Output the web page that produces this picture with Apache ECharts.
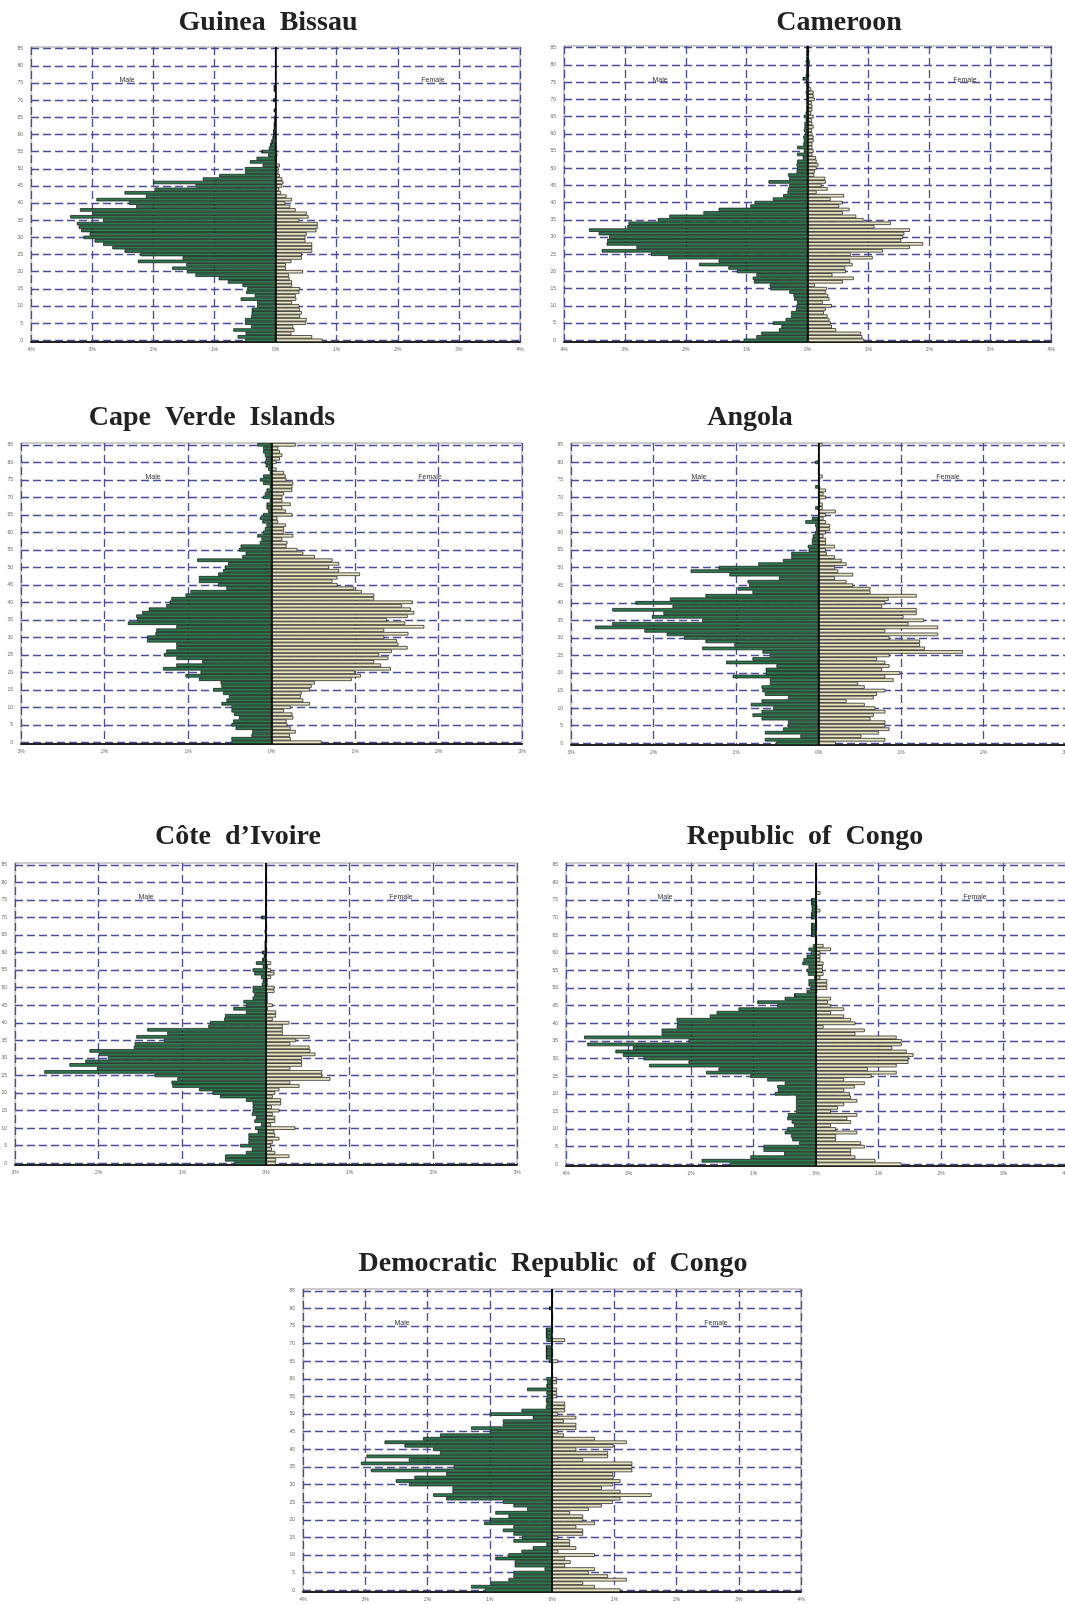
<!DOCTYPE html>
<html>
<head>
<meta charset="utf-8">
<script src="https://cdn.jsdelivr.net/npm/echarts@6/dist/echarts.min.js"></script>
<style>
  html, body { margin: 0; padding: 0; background: #fff; }
  #main { width: 1065px; height: 1604px; }
</style>
</head>
<body>
<div id="main"></div>
<script>
// single-year age groups 0..85
const ages = [];
for (let a = 0; a <= 85; a++) ages.push(String(a));

const countries = ['Guinea  Bissau', 'Cameroon', 'Cape  Verde  Islands', 'Angola',
  'Côte  d\u2019Ivoire', 'Republic  of  Congo', 'Democratic  Republic  of  Congo'];
const xLimits = [4, 4, 3, 3, 3, 4, 4]; // % either side

// share of population, %, per age (0..85)
const gbMale = [0.5,0.62,0.49,0.69,0.4,0.5,0.5,0.4,0.39,0.39, 0.3,0.3,0.57,0.34,0.48,0.46,0.54,0.78,0.93,1.31,
  1.45,1.69,1.46,2.25,1.52,2.21,2.47,2.67,2.82,2.96, 3.14,3.04,3.18,3.22,3.25,2.82,3.36,3.0,3.2,2.28,
  2.4,2.93,2.12,2.47,1.98,1.31,2.0,1.19,0.92,0.5, 0.5,0.21,0.42,0.31,0.12,0.22,0.11,0.08,0.06,0.04,
  0.03,0.03,0.02,0.02,0.01,0.01,0,0.02,0,0, 0.03,0,0,0.02,0.02,0,0,0,0,0, 0,0,0,0,0,0];
const gbFemale = [0.77,0.6,0.26,0.31,0.29,0.5,0.51,0.4,0.43,0.4, 0.39,0.27,0.34,0.33,0.39,0.4,0.27,0.27,0.23,0.22,
  0.45,0.17,0.17,0.26,0.43,0.43,0.6,0.6,0.6,0.49, 0.49,0.51,0.67,0.69,0.69,0.39,0.54,0.51,0.33,0.24,
  0.16,0.27,0.18,0.09,0.06,0.11,0.13,0.11,0.07,0.05, 0.05,0.07,0.02,0.02,0.03,0,0.01,0,0,0,
  0,0,0,0,0,0,0,0,0,0, 0,0,0,0,0,0,0,0,0,0, 0,0,0,0,0,0];

const cmMale = [1.05,0.84,0.76,0.47,0.43,0.57,0.36,0.27,0.27,0.19, 0.18,0.17,0.22,0.23,0.3,0.61,0.62,0.88,0.9,0.84,
  1.16,1.3,1.78,1.46,2.29,2.57,3.38,2.81,3.3,3.29, 3.26,3.43,3.59,2.96,2.94,2.46,2.27,1.71,1.46,0.94,
  0.87,0.57,0.4,0.33,0.32,0.3,0.64,0.3,0.32,0.18, 0.17,0.18,0.17,0.08,0.17,0.06,0.17,0.07,0.06,0.07,
  0.04,0.06,0.05,0.05,0.03,0.06,0.03,0.02,0.02,0.02, 0.02,0.02,0.03,0.02,0.02,0.02,0.07,0.03,0.02,0.02,
  0.02,0.03,0.02,0.02,0.02,0.02];
const cmFemale = [0.93,0.9,0.88,0.47,0.4,0.38,0.36,0.33,0.27,0.3, 0.4,0.25,0.36,0.34,0.3,0.32,0.12,0.58,0.76,0.41,
  0.63,0.62,0.74,0.7,1.07,0.71,1.24,1.68,1.9,1.54, 1.57,1.59,1.68,1.1,1.37,0.92,0.8,0.58,0.69,0.52,
  0.58,0.38,0.6,0.15,0.33,0.23,0.3,0.29,0.11,0.12, 0.15,0.18,0.15,0.14,0.08,0.1,0.08,0.08,0.1,0.1,
  0.08,0.07,0.1,0.08,0.07,0.1,0.06,0.08,0.08,0.07, 0.12,0.1,0.1,0.06,0.03,0,0,0.03,0.02,0.02,
  0.04,0.04,0.02,0.02,0.03,0.02];

const cvMale = [0.48,0.48,0.24,0.23,0.43,0.48,0.46,0.39,0.45,0.48, 0.48,0.6,0.54,0.51,0.58,0.7,0.6,0.61,0.87,1.03,
  0.85,1.3,1.14,0.83,1.14,1.29,1.26,1.14,1.14,1.49, 1.49,1.39,1.38,1.14,1.72,1.61,1.62,1.55,1.47,1.26,
  1.22,1.2,1.03,0.97,0.54,0.64,0.87,0.87,0.64,0.58, 0.56,0.52,0.89,0.35,0.31,0.39,0.37,0.14,0.12,0.17,
  0.1,0.08,0.06,0.11,0.14,0.1,0.04,0.06,0.06,0.02, 0.1,0.08,0.06,0.02,0.1,0.14,0.1,0.02,0.04,0.07,
  0.08,0.07,0.08,0.1,0.1,0.17];
const cvFemale = [0.6,0.23,0.22,0.29,0.23,0.19,0.18,0.26,0.25,0.15, 0.23,0.46,0.38,0.35,0.36,0.46,0.48,0.52,0.96,1.07,
  1.0,1.43,1.31,1.23,1.4,1.29,1.44,1.63,1.52,1.5, 1.35,1.64,1.35,1.83,1.6,1.38,1.63,1.71,1.67,1.56,
  1.69,1.23,1.23,1.08,0.99,0.79,0.73,0.79,1.06,0.81, 0.69,0.81,0.73,0.52,0.38,0.31,0.18,0.19,0.13,0.26,
  0.15,0.15,0.17,0.08,0.07,0.25,0.17,0.13,0.23,0.13, 0.13,0.15,0.25,0.25,0.26,0.18,0.17,0.15,0.06,0.02,
  0.06,0.1,0.13,0.1,0.08,0.29];

const agMale = [0.51,0.65,0.22,0.65,0.43,0.37,0.37,0.69,0.8,0.69, 0.55,0.82,0.69,0.37,0.65,0.68,0.69,0.59,0.59,1.04,
  0.64,0.64,0.51,1.12,0.8,0.59,0.68,1.41,1.02,1.37, 1.63,1.84,2.11,2.71,2.5,1.41,2.02,1.88,2.5,1.77,
  2.22,1.8,1.37,0.8,0.98,0.84,0.86,0.48,1.08,1.55, 1.21,0.73,0.43,0.33,0.33,0.12,0.13,0.08,0.08,0.07,
  0.04,0.03,0.04,0.16,0.08,0,0,0.04,0,0, 0,0,0,0.04,0,0,0,0,0,0, 0.04,0,0,0,0,0];
const agFemale = [0.21,0.81,0.52,0.73,0.86,0.81,0.81,0.63,0.67,0.81, 0.69,0.56,0.34,0.67,0.71,0.81,0.56,0.48,0.91,0.81,
  0.99,0.77,0.86,0.81,0.71,0.86,1.75,1.29,1.23,1.23, 0.86,1.45,0.81,1.45,1.09,1.28,1.03,1.19,1.19,0.77,
  0.81,0.85,1.19,0.63,0.63,0.42,0.34,0.2,0.42,0.24, 0.2,0.34,0.28,0.2,0.1,0.09,0.2,0.09,0.09,0.06,
  0.09,0.14,0.14,0.09,0.06,0.09,0.21,0.05,0.05,0.02, 0.09,0.06,0.09,0.02,0,0.02,0.05,0.01,0.01,0.01,
  0.01,0.01,0.01,0.01,0.01,0.05];

const ciMale = [0.38,0.49,0.49,0.24,0.17,0.31,0.21,0.21,0.21,0.1, 0.13,0.06,0.14,0.12,0.17,0.16,0.16,0.16,0.24,0.55,
  0.64,0.8,1.12,1.13,1.06,1.33,2.65,2.02,2.35,2.16, 1.89,2.0,2.11,1.58,1.57,1.22,1.55,1.18,1.42,0.69,
  0.67,0.5,0.49,0.24,0.39,0.24,0.27,0.16,0.14,0.16, 0.16,0.05,0.04,0.06,0.14,0.16,0.04,0.12,0.04,0.02,
  0.04,0.01,0.01,0.01,0,0,0.01,0,0,0, 0.05,0,0,0,0,0,0,0,0,0, 0,0,0,0,0,0];
const ciFemale = [0.12,0.12,0.28,0.11,0.07,0.06,0.08,0.16,0.11,0.1, 0.35,0.06,0.11,0.11,0.08,0.16,0.07,0.18,0.18,0.08,
  0.11,0.16,0.4,0.29,0.77,0.67,0.67,0.29,0.43,0.43, 0.43,0.59,0.53,0.52,0.29,0.36,0.52,0.2,0.2,0.2,
  0.28,0.08,0.12,0.12,0.02,0.08,0.02,0.02,0.02,0.1, 0.1,0.02,0.02,0.06,0.1,0.06,0.02,0.06,0,0,
  0,0,0,0,0,0,0,0,0,0, 0,0,0,0,0,0,0,0,0,0, 0,0,0,0,0,0];

const rcMale = [1.38,1.83,1.05,0.51,0.84,0.84,0.27,0.38,0.4,0.5, 0.46,0.35,0.39,0.46,0.45,0.32,0.32,0.32,0.32,0.32,
  0.66,0.61,0.62,0.5,0.78,1.05,1.76,1.56,2.67,2.04, 2.76,3.09,3.21,2.93,3.66,2.04,3.71,2.47,2.47,2.23,
  2.22,2.23,1.7,1.59,1.24,0.62,0.94,0.5,0.34,0.15, 0.09,0.12,0.12,0.03,0.13,0.15,0.12,0.22,0.2,0.15,
  0.08,0.12,0.05,0,0,0.07,0.07,0.07,0.07,0, 0.07,0.07,0.07,0.07,0.07,0.07,0,0,0,0, 0,0,0,0,0,0];
const rcFemale = [1.37,0.95,0.63,0.56,0.56,0.78,0.72,0.32,0.32,0.66, 0.32,0.24,0.56,0.5,0.66,0.24,0.35,0.45,0.66,0.56,
  0.54,0.45,0.62,0.78,0.45,0.89,1.29,0.83,1.29,1.48, 1.48,1.56,1.45,1.22,1.37,1.37,1.29,0.63,0.78,0.12,
  0.63,0.56,0.45,0.24,0.45,0.24,0.19,0.24,0,0.02, 0.18,0.18,0.18,0.07,0.12,0.11,0.11,0.12,0.07,0.07,
  0.07,0.24,0.12,0,0,0,0,0,0,0, 0,0,0.07,0.02,0,0,0,0.07,0,0, 0,0,0,0,0,0];

const drcMale = [1.08,1.3,0.98,0.7,0.62,0.62,0.12,0.6,0.6,0.91, 0.7,0.49,0.31,0.09,0.62,0.48,0.62,0.79,0.62,1.09,
  1.0,0.7,0.91,0.4,0.62,0.79,1.7,1.91,1.6,1.6, 2.3,2.51,2.21,1.7,2.91,1.58,3.07,2.3,2.98,1.8,
  1.91,2.37,2.69,2.07,1.8,1.0,1.3,0.79,0.79,0.31, 1.0,0.49,0.1,0.09,0.09,0.08,0.09,0.4,0.08,0.08,
  0.09,0,0,0,0,0.05,0.09,0.09,0.09,0.09, 0,0.09,0.09,0.09,0.09,0,0,0,0,0, 0.04,0,0,0,0,0];
const drcFemale = [1.1,0.69,0.5,1.2,0.9,0.59,0.69,0.21,0.3,0.21, 0.69,0.1,0.39,0.29,0.29,0.1,0.5,0.5,0.39,0.69,
  0.5,0.5,0.29,0.59,0.8,0.98,1.1,1.6,1.1,0.8, 0.98,1.1,0.99,0.98,1.29,1.29,1.29,0.5,0.9,0.9,
  0.39,0.99,1.2,0.69,0.19,0.1,0.39,0.39,0.19,0.39, 0.1,0.21,0.21,0.21,0,0.08,0.08,0.08,0,0.08,
  0.08,0,0,0,0,0.1,0,0,0,0, 0,0.21,0,0,0,0,0,0,0,0, 0,0,0,0,0,0];

const maleData = [gbMale, cmMale, cvMale, agMale, ciMale, rcMale, drcMale];
const femaleData = [gbFemale, cmFemale, cvFemale, agFemale, ciFemale, rcFemale, drcFemale];

// panel placement on the page (px)
const layout = [
  { left: 31,  top: 47,   width: 489, height: 295, title: [263, 18],   male: [122, 75],   female: [428, 75] },
  { left: 564, top: 46,   width: 487, height: 296, title: [834, 18],   male: [655, 75],   female: [960, 75] },
  { left: 21,  top: 443,  width: 501, height: 301, title: [207, 413],  male: [148, 472],  female: [425, 472] },
  { left: 571, top: 443,  width: 495, height: 302, title: [745, 413],  male: [694, 472],  female: [943, 472] },
  { left: 15,  top: 863,  width: 502, height: 302, title: [233, 832],  male: [141, 892],  female: [396, 892] },
  { left: 566, top: 863,  width: 500, height: 303, title: [800, 832],  male: [660, 892],  female: [970, 892] },
  { left: 303, top: 1289, width: 498, height: 303, title: [548, 1259], male: [397, 1318], female: [711, 1318] }
];

const gridLine = { color: '#4b4b9e', type: [8, 4], width: 1.3 };
const tickFont = { fontSize: 5, color: '#666', fontFamily: 'Liberation Sans' };

const titles = [], grids = [], xAxes = [], yAxes = [], series = [];
layout.forEach((p, i) => {
  titles.push({
    text: countries[i], left: p.title[0], top: p.title[1], textAlign: 'center', textVerticalAlign: 'middle',
    textStyle: { fontFamily: 'Liberation Serif', fontWeight: 'bold', fontSize: 28, color: '#222' }
  });
  titles.push({
    text: 'Male', left: p.male[0], top: p.male[1], textAlign: 'center', textVerticalAlign: 'middle',
    textStyle: { fontFamily: 'Liberation Sans', fontWeight: 'normal', fontSize: 7, color: '#333' }
  });
  titles.push({
    text: 'Female', left: p.female[0], top: p.female[1], textAlign: 'center', textVerticalAlign: 'middle',
    textStyle: { fontFamily: 'Liberation Sans', fontWeight: 'normal', fontSize: 7, color: '#333' }
  });

  grids.push({
    left: p.left, top: p.top, width: p.width, height: p.height,
    outerBoundsMode: 'none', containLabel: false,
    show: true, borderColor: '#9a9a9a', borderWidth: 1, backgroundColor: 'transparent'
  });

  xAxes.push({
    type: 'value', gridIndex: i, min: -xLimits[i], max: xLimits[i], interval: 1,
    axisLine: { show: true, onZero: false, lineStyle: { color: '#222', width: 2 } },
    axisTick: { show: false },
    splitLine: { show: true, lineStyle: gridLine },
    axisLabel: Object.assign({ margin: 5, formatter: v => Math.abs(v) + '%' }, tickFont)
  });

  yAxes.push({
    type: 'category', gridIndex: i, data: ages,
    axisLine: { show: false, onZero: false },
    axisTick: { show: false },
    splitLine: { show: true, interval: 4, alignWithLabel: true, lineStyle: gridLine },
    axisLabel: Object.assign({ interval: 4, margin: 8 }, tickFont)
  });

  series.push({
    type: 'bar', name: 'Male', xAxisIndex: i, yAxisIndex: i, stack: 'p' + i,
    data: maleData[i].map(v => -v), barCategoryGap: '0%',
    itemStyle: { color: '#2e7b50', borderColor: '#111', borderWidth: 0.7 }
  });
  series.push({
    type: 'bar', name: 'Female', xAxisIndex: i, yAxisIndex: i, stack: 'p' + i,
    data: femaleData[i], barCategoryGap: '0%',
    itemStyle: { color: '#ebe6c2', borderColor: '#111', borderWidth: 0.7 },
    markLine: {
      silent: true, symbol: 'none', label: { show: false },
      lineStyle: { color: '#000', width: 1.5, type: 'solid' },
      data: [{ xAxis: 0 }]
    }
  });
});

const chart = echarts.init(document.getElementById('main'), null, { renderer: 'canvas' });
chart.setOption({
  animation: false,
  backgroundColor: '#fff',
  title: titles,
  grid: grids,
  xAxis: xAxes,
  yAxis: yAxes,
  series: series
});
</script>
</body>
</html>
